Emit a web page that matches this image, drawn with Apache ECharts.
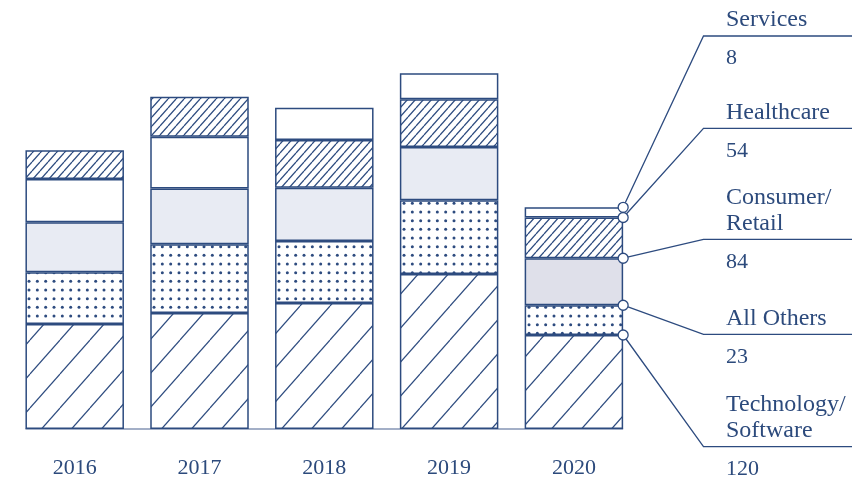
<!DOCTYPE html>
<html>
<head>
<meta charset="utf-8">
<style>
  html, body { margin: 0; padding: 0; background: #fff; }
  #main { width: 852px; height: 482px; }
</style>
</head>
<body>
<div id="main"></div>
<script src="https://cdn.jsdelivr.net/npm/echarts@6/dist/echarts.min.js"></script>
<script>
  var years = ['2016', '2017', '2018', '2019', '2020'];
  // block heights, same unit as the 2020 Technology/Software figure
  var techSoftware = [134, 148, 161, 198, 120];
  var allOthers = [66, 88, 79, 94, 38];
  var consumerRetail = [64, 71, 68, 68, 60];
  var healthcare = [37, 51, 61, 61, 52];
  // Services sits under Healthcare in 2016-2017, on top afterwards
  var servicesLow = [55, 66, '-', '-', '-'];
  var servicesHigh = ['-', '-', 41, 33, 13];

  var legendNames = ['Services', 'Healthcare', 'Consumer/\nRetail', 'All Others', 'Technology/\nSoftware'];
  var legendValues = [8, 54, 84, 23, 120];

  var navy = '#2d4b7f';
  var textColor = '#2c4a7c';
  var barW = 98.5;

  // fill patterns
  function hatch(w, h, lw) {
    var c = document.createElement('canvas');
    c.width = w; c.height = h;
    var ctx = c.getContext('2d');
    ctx.fillStyle = '#fff';
    ctx.fillRect(0, 0, w, h);
    ctx.strokeStyle = navy;
    ctx.lineWidth = lw;
    for (var k = -1; k <= 1; k++) {
      ctx.beginPath();
      ctx.moveTo(k * w, h);
      ctx.lineTo(k * w + w, 0);
      ctx.stroke();
    }
    return c;
  }
  function dots() {
    var c = document.createElement('canvas');
    c.width = 25; c.height = 26;
    var ctx = c.getContext('2d');
    ctx.fillStyle = '#fff';
    ctx.fillRect(0, 0, 25, 26);
    ctx.fillStyle = navy;
    for (var i = 0; i < 3; i++) {
      for (var j = 0; j < 3; j++) {
        ctx.beginPath();
        ctx.arc(4 + i * 25 / 3, 4 + j * 26 / 3, 1.5, 0, Math.PI * 2);
        ctx.fill();
      }
    }
    return c;
  }

  var wideHatch = { image: hatch(30, 34, 1.2), repeat: 'repeat' };
  var fineHatch = { image: hatch(8, 9, 1.3), repeat: 'repeat' };
  var dotFill = { image: dots(), repeat: 'repeat' };

  function bar(name, data, fill) {
    return {
      name: name,
      type: 'bar',
      stack: 'total',
      barWidth: barW,
      silent: true,
      data: data,
      itemStyle: { color: fill, borderColor: navy, borderWidth: 1.5 }
    };
  }

  var chart = echarts.init(document.getElementById('main'));

  var option = {
    animation: false,
    grid: { left: 12.3, right: 215.7, top: 37.33, bottom: 53 },
    xAxis: {
      type: 'category',
      data: years,
      axisLine: { show: false },
      axisTick: { show: false },
      axisLabel: {
        margin: 28,
        fontFamily: 'Liberation Serif',
        fontSize: 22,
        color: textColor
      }
    },
    yAxis: {
      type: 'value',
      min: 0,
      max: 500,
      show: false
    },
    series: [
      bar('Technology/Software', techSoftware, wideHatch),
      bar('All Others', allOthers, dotFill),
      bar('Consumer/Retail', consumerRetail.map(function (v, i) {
        return i === 4 ? { value: v, itemStyle: { color: '#dfe0ea' } } : v;
      }), '#e8ebf3'),
      bar('Services', servicesLow, '#fff'),
      bar('Healthcare', healthcare, fineHatch),
      bar('Services', servicesHigh, '#fff')
    ]
  };
  chart.setOption(option);

  // leaders from the 2020 bar to the labels on the right
  var seriesForLegend = [5, 4, 2, 1, 0];
  var leaderY = [36, 128.3, 239.3, 334.3, 446.7];
  var bendX = 703.5, textX = 726;

  var last = years.length - 1;
  var xMid = chart.convertToPixel({ xAxisIndex: 0 }, years[last]);
  var xRight = xMid + barW / 2;
  var xLeft = chart.convertToPixel({ xAxisIndex: 0 }, years[0]) - barW / 2;
  var yBase = chart.convertToPixel({ yAxisIndex: 0 }, 0);

  function stackTop(si) {
    var sum = 0;
    for (var s = 0; s <= si; s++) {
      var d = option.series[s].data[last];
      var v = (d && typeof d === 'object') ? d.value : d;
      if (v !== '-') sum += v;
    }
    return sum;
  }

  var elements = [{
    type: 'line',
    z: 1,
    shape: { x1: xLeft, y1: yBase, x2: xRight, y2: yBase },
    style: { stroke: '#8594b4', lineWidth: 1.5 }
  }];

  legendNames.forEach(function (name, i) {
    var cy = chart.convertToPixel({ yAxisIndex: 0 }, stackTop(seriesForLegend[i]));
    var ly = leaderY[i];
    elements.push({
      type: 'polyline',
      z: 10,
      shape: { points: [[xRight, cy], [bendX, ly], [852, ly]] },
      style: { stroke: navy, lineWidth: 1.3, fill: null }
    });
    elements.push({
      type: 'circle',
      z: 11,
      shape: { cx: xRight, cy: cy, r: 5 },
      style: { fill: '#fff', stroke: navy, lineWidth: 1.3 }
    });
    var lines = name.split('\n');
    lines.forEach(function (t, k) {
      var base = ly - 10.3 - (lines.length - 1 - k) * 25.7;
      elements.push({
        type: 'text',
        z: 11,
        style: {
          text: t, x: textX, y: base - 5.6,
          fontFamily: 'Liberation Serif', fontSize: 24,
          fill: textColor, verticalAlign: 'middle', align: 'left'
        }
      });
    });
    elements.push({
      type: 'text',
      z: 11,
      style: {
        text: String(legendValues[i]), x: textX, y: ly + 27.5 - 5,
        fontFamily: 'Liberation Serif', fontSize: 22,
        fill: textColor, verticalAlign: 'middle', align: 'left'
      }
    });
  });

  chart.setOption({ graphic: { elements: elements } });
</script>
</body>
</html>
